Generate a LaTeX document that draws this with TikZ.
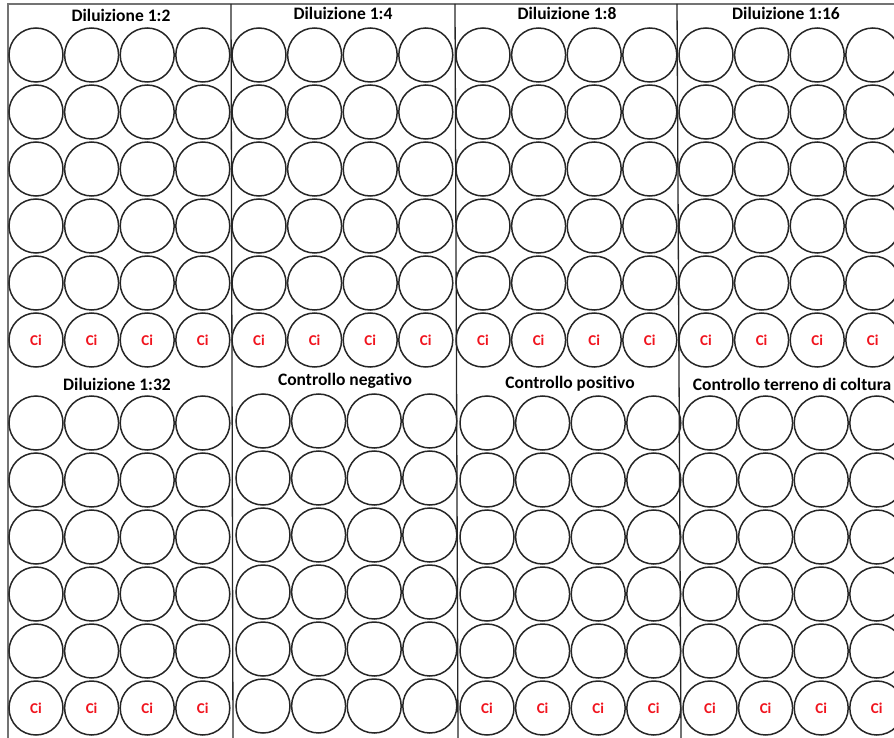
\documentclass[tikz,border=0pt]{standalone}
\usepackage{fontspec}
\setmainfont{Carlito}[Ligatures=NoCommon]
\usetikzlibrary{positioning}
\definecolor{cired}{RGB}{240,20,30}

\begin{document}
\begin{tikzpicture}[
    x=1pt, y=-1pt,
    well/.style={circle, draw=black!85, line width=1.5pt, minimum size=54pt,
                 inner sep=0pt, text=cired, font=\bfseries\fontsize{15}{17}\selectfont},
    title/.style={font=\bfseries\fontsize{17.5}{20}\selectfont},
    frame/.style={line width=1.6pt, black!55},
    divider/.style={line width=1.3pt, black!85}
]
\useasboundingbox (0,0) rectangle (894,738);

% Frame and dividers
\coordinate (tl) at (8,4);
\coordinate (tr) at (894,4);
\coordinate (bl) at (8,738);
\draw[frame] (bl) -- (tl) -- (tr);
\foreach \xt/\xb [count=\d] in {231/233, 455/458, 677/681} {
  \coordinate (dt\d) at (\xt,4);
  \coordinate (db\d) at (\xb,738);
  \draw[divider] (dt\d) -- (db\d);
}

% Wells: first column x / first row y / Ci row
\foreach \px/\py/\ci [count=\p] in {36/55/1, 259/55/1, 483/55/1, 706/55/1,
                                    36/423/1, 263/421/0, 487/423/1, 710/423/1} {
  \foreach \r in {0,...,5} {
    \foreach \c in {0,...,3} {
      \node[well] (w\p-\r-\c) at (\px+55.6*\c, \py+57*\r)
        {\ifnum\r=5 \ifnum\ci=1 Ci\fi\fi};
    }
  }
}

% Titles
\node[title] (t1) at (121,15) {Diluizione 1:2};
\node[title] (t2) at (343,13) {Diluizione 1:4};
\node[title] (t3) at (567,13) {Diluizione 1:8};
\node[title] (t4) at (786,13) {Diluizione 1:16};
\node[title] (t5) at (117,384) {Diluizione 1:32};
\node[title] (t6) at (345,381) {Controllo negativo};
\node[title] (t7) at (570,384) {Controllo positivo};
\node[title] (t8) at (792,384) {Controllo terreno di coltura};

\end{tikzpicture}
\end{document}
